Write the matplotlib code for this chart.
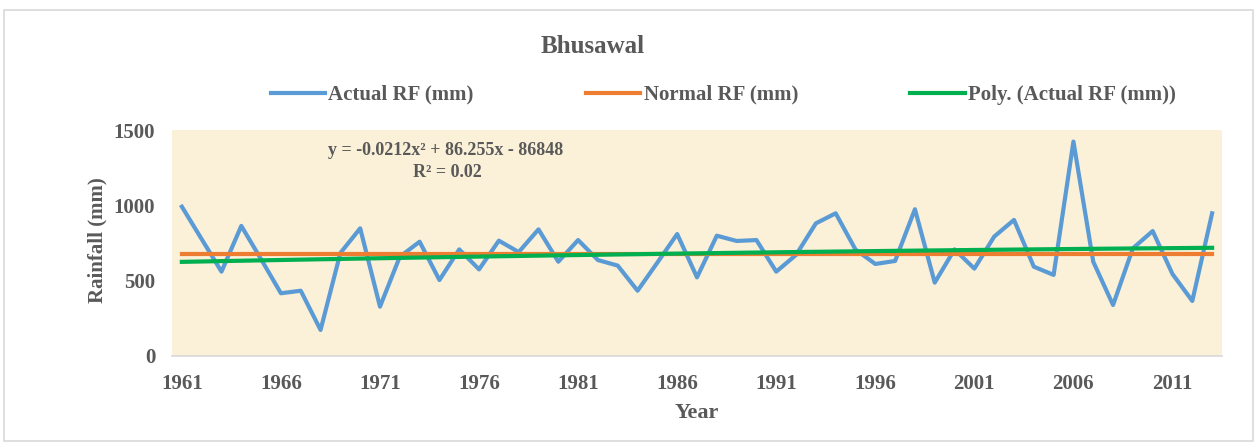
import numpy as np
import matplotlib.pyplot as plt
from matplotlib.patches import Rectangle

# Datos (Bhusawal, lluvia anual)
years = np.arange(1961, 2014)
actual_rf = [990, 774, 558, 862, 640, 414, 431, 170, 682, 846,
             325, 657, 757, 502, 706, 573, 764, 688, 839, 624,
             768, 635, 598, 431, 618, 808, 520, 797, 762, 768,
             558, 669, 879, 946, 705, 609, 629, 973, 485, 706,
             578, 791, 902, 591, 536, 1423, 624, 336, 713, 828,
             542, 363, 946]
normal_rf = [675] * len(years)
tick_years = [1961, 1966, 1971, 1976, 1981, 1986, 1991, 1996, 2001, 2006, 2011]

# Tendencia polinómica de orden 2 (como la de Excel)
coef = np.polyfit(years, actual_rf, 2)
poly_rf = np.polyval(coef, years)

plt.rcParams['font.family'] = ['Liberation Serif', 'DejaVu Serif']
gris = '#595959'

fig = plt.figure(figsize=(12.58, 4.43), dpi=100)
ax = fig.add_axes([0.1367, 0.1975, 0.8347, 0.509])
ax.set_facecolor('#FBF0D8')

ax.plot(years, actual_rf, color='#5B9BD5', lw=3, label='Actual RF (mm)')
ax.plot(years, normal_rf, color='#ED7D31', lw=3, label='Normal RF (mm)')
ax.plot(years, poly_rf, color='#00B050', lw=3, label='Poly. (Actual RF (mm))')

ax.set_xlim(1960.5, 2013.5)
ax.set_ylim(0, 1500)
ax.set_yticks([0, 500, 1000, 1500])
ax.set_xticks(tick_years)
ax.tick_params(axis='y', length=0, labelsize=15, colors=gris, pad=12)
ax.tick_params(axis='x', length=0, labelsize=15, colors=gris, pad=13)
for lab in ax.get_xticklabels() + ax.get_yticklabels():
    lab.set_fontweight('bold')

for s in ['top', 'right', 'left']:
    ax.spines[s].set_visible(False)
ax.spines['bottom'].set_color('#D9D9D9')
ax.spines['bottom'].set_linewidth(1.2)

ax.set_xlabel('Year', fontsize=16, fontweight='bold', color=gris)
ax.xaxis.set_label_coords(0.5, -0.212)
ax.set_ylabel('Rainfall (mm)', fontsize=15, fontweight='bold', color=gris)
ax.yaxis.set_label_coords(-0.061, 0.512)

fig.text(0.4714, 0.896, 'Bhusawal', ha='center', va='center', fontsize=18,
         fontweight='bold', color=gris)

ax.text(0.261, 0.907, 'y = -0.0212x² + 86.255x - 86848', transform=ax.transAxes,
        ha='center', va='center', fontsize=13, fontweight='bold', color=gris)
ax.text(0.262, 0.812, 'R² = 0.02', transform=ax.transAxes,
        ha='center', va='center', fontsize=13, fontweight='bold', color=gris)

fig.legend(loc='center', bbox_to_anchor=(0.575, 0.786), ncol=3, frameon=False,
           prop={'weight': 'bold', 'size': 15}, labelcolor=gris,
           handlelength=2.6, handletextpad=0.15, columnspacing=5.4)

fig.patches.append(Rectangle((0.003, 0.005), 0.993, 0.973, transform=fig.transFigure,
                             fill=False, edgecolor='#D9D9D9', lw=1.2))

fig.savefig('out.png', dpi=100)
